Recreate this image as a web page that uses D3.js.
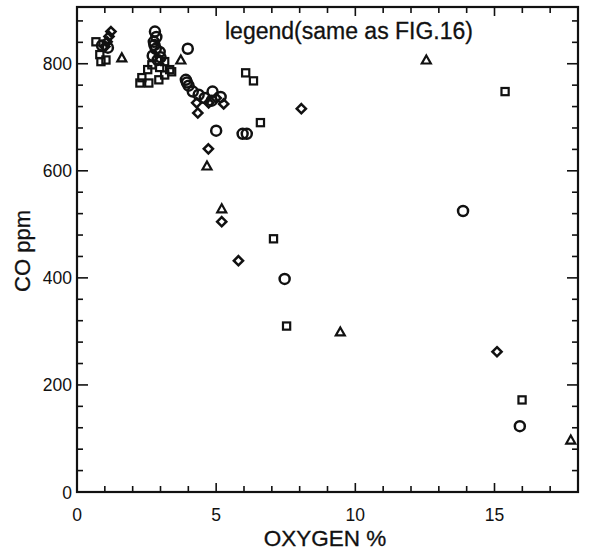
<!DOCTYPE html>
<html><head><meta charset="utf-8">
<script src="https://cdn.jsdelivr.net/npm/d3@7"></script>
<style>body{margin:0;background:#fff;} text{font-family:"Liberation Sans",Arial,sans-serif;fill:#111;}</style>
</head><body><svg id="c" width="591" height="551"></svg>
<script>
// Data (OXYGEN %, CO ppm)
const circleX = [0.90,1.11,2.80,2.76,2.83,2.72,2.97,2.90,2.85,2.78,3.00,3.98,3.91,3.95,4.01,4.16,4.37,4.59,4.87,5.16,4.84,5.00,5.95,6.10,7.46,13.87,15.91];
const circleY = [834,830,860,841,828,815,822,807,850,835,812,828,770,765,759,748,742,736,748,738,731,675,669,669,398,525,123];
const squareX = [0.68,0.82,0.86,1.04,2.26,2.58,2.94,3.15,3.33,2.54,2.69,2.33,2.97,3.15,3.40,6.06,6.34,6.59,7.06,7.53,15.38,15.99];
const squareY = [841,817,804,807,764,764,770,779,789,789,798,774,793,804,785,783,768,690,473,310,748,172];
const diamondX = [1.22,1.15,1.08,1.00,4.30,4.34,4.73,5.27,5.00,4.72,5.20,5.80,8.06,15.09];
const diamondY = [860,851,841,832,727,708,727,725,736,641,505,432,716,262];
const triangleX = [1.61,3.73,4.67,5.20,9.46,12.55,17.74];
const triangleY = [811,807,609,529,299,807,97];
const xMajor = [0,5,10,15];
const yMajor = [0,200,400,600,800];

const svg = d3.select("#c");
const L=77,R=578,T=7,B=492;
const x = d3.scaleLinear().domain([0,18]).range([L,R]);
const y = d3.scaleLinear().domain([0,906]).range([B,T]);

const g = svg.append("g");
g.append("rect").attr("x",L).attr("y",T).attr("width",R-L).attr("height",B-T)
 .attr("fill","none").attr("stroke","#111").attr("stroke-width",2.2);

const xMinor = d3.range(1,18).filter(v=>v%5!==0);
const yMinor = d3.range(40,906,40).filter(v=>v%200!==0);
function ticks(vals,len){
  vals.forEach(v=>{
    g.append("line").attr("x1",x(v)).attr("x2",x(v)).attr("y1",B).attr("y2",B-len).attr("stroke","#111").attr("stroke-width",1.6);
    g.append("line").attr("x1",x(v)).attr("x2",x(v)).attr("y1",T).attr("y2",T+len).attr("stroke","#111").attr("stroke-width",1.6);
  });
}
ticks(xMinor,6); ticks(xMajor.filter(v=>v>0),9);
function yt(vals,len){
  vals.forEach(v=>{
    g.append("line").attr("y1",y(v)).attr("y2",y(v)).attr("x1",L).attr("x2",L+len).attr("stroke","#111").attr("stroke-width",1.6);
    g.append("line").attr("y1",y(v)).attr("y2",y(v)).attr("x1",R).attr("x2",R-len).attr("stroke","#111").attr("stroke-width",1.6);
  });
}
yt(yMinor,6); yt(yMajor.filter(v=>v>0),11);

g.selectAll(".xl").data(xMajor).enter().append("text").attr("x",d=>x(d)).attr("y",B+29)
 .attr("text-anchor","middle").attr("font-size",17.5).text(d=>d);
g.selectAll(".yl").data(yMajor).enter().append("text").attr("x",L-5).attr("y",d=>y(d)+6.5)
 .attr("text-anchor","end").attr("font-size",17.5).text(d=>d);

g.append("text").attr("x",325).attr("y",546).attr("text-anchor","middle").attr("font-size",22.5).attr("stroke","#111").attr("stroke-width",0.3).text("OXYGEN  %");
g.append("text").attr("transform","translate(30,251) rotate(-90)").attr("text-anchor","middle").attr("font-size",22).attr("stroke","#111").attr("stroke-width",0.3).text("CO  ppm");
g.append("text").attr("x",349).attr("y",39).attr("text-anchor","middle").attr("font-size",23).attr("stroke","#111").attr("stroke-width",0.3).text("legend(same as FIG.16)");

const st = {fill:"none",stroke:"#111","stroke-width":2.5};
function apply(sel){Object.entries(st).forEach(([k,v])=>sel.attr(k,v));return sel;}
apply(g.selectAll(".ci").data(d3.range(circleX.length)).enter().append("circle")
  .attr("cx",i=>x(circleX[i])).attr("cy",i=>y(circleY[i])).attr("r",5));
apply(g.selectAll(".sq").data(d3.range(squareX.length)).enter().append("rect")
  .attr("x",i=>x(squareX[i])-3.6).attr("y",i=>y(squareY[i])-3.6).attr("width",7.2).attr("height",7.2)).attr("stroke-width",2.2);
apply(g.selectAll(".di").data(d3.range(diamondX.length)).enter().append("path")
  .attr("d",i=>{const cx=x(diamondX[i]),cy=y(diamondY[i]),r=4.6;return `M${cx},${cy-r}L${cx+r},${cy}L${cx},${cy+r}L${cx-r},${cy}Z`;}));
apply(g.selectAll(".tr").data(d3.range(triangleX.length)).enter().append("path")
  .attr("d",i=>{const cx=x(triangleX[i]),cy=y(triangleY[i]);return `M${cx},${cy-4.5}L${cx+4.5},${cy+3.5}L${cx-4.5},${cy+3.5}Z`;})).attr("stroke-width",2.2);
</script></body></html>
